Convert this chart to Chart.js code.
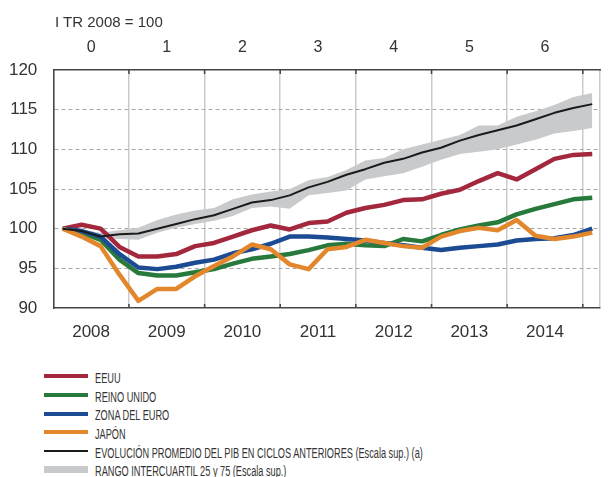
<!DOCTYPE html>
<html lang="es">
<head>
<meta charset="utf-8">
<title>PIB: ciclo actual frente a ciclos anteriores</title>
<script src="https://cdn.jsdelivr.net/npm/chart.js@4.4.1/dist/chart.umd.min.js"></script>
<style>
  html, body { margin: 0; padding: 0; background: #fff; }
  #wrap { position: relative; width: 614px; height: 477px; overflow: hidden;
          font-family: 'Liberation Sans', Arial, sans-serif; color: #333; }
  #chart-box { position: absolute; left: 0; top: 0; width: 614px; height: 350px; }
  #subtitulo { position: absolute; left: 55px; top: 13px; font-size: 15px; line-height: 17px;
               color: #333; white-space: nowrap; }
  #leyenda { position: absolute; left: 44px; top: 369px; margin: 0; padding: 0; list-style: none;
             font-family: 'Liberation Sans', Arial, sans-serif; font-size: 14px; color: #333; }
  #leyenda li { height: 18.7px; line-height: 18.7px; display: flex; align-items: center; white-space: nowrap; }
  #leyenda .muestra { width: 44px; margin-right: 7px; position: relative; top: -2px; flex: none; }
  #leyenda .texto { display: inline-block; transform-origin: 0 50%; }
</style>
</head>
<body>
<div id="wrap">
  <div id="chart-box"><canvas id="grafico" width="614" height="350"></canvas></div>
  <div id="subtitulo">I TR 2008 = 100</div>
  <ul id="leyenda"></ul>
</div>
<script>
// trimestres, eje inferior (2008 I TR a 2015 I TR)
const trimestres = [
  '2008 I', '2008 II', '2008 III', '2008 IV',
  '2009 I', '2009 II', '2009 III', '2009 IV',
  '2010 I', '2010 II', '2010 III', '2010 IV',
  '2011 I', '2011 II', '2011 III', '2011 IV',
  '2012 I', '2012 II', '2012 III', '2012 IV',
  '2013 I', '2013 II', '2013 III', '2013 IV',
  '2014 I', '2014 II', '2014 III', '2014 IV',
  '2015 I'
];
const anios = ['2008', '2009', '2010', '2011', '2012', '2013', '2014'];
const aniosCiclo = ['0', '1', '2', '3', '4', '5', '6']; // escala superior

const eeuu = [100, 100.5, 100.0, 97.7, 96.5, 96.5, 96.8, 97.8, 98.2, 99.0, 99.8, 100.4, 99.9, 100.7,
  100.9, 102.0, 102.6, 103.0, 103.6, 103.7, 104.4, 104.9, 106.0, 107.0, 106.2, 107.5, 108.8, 109.3, 109.4];
const reinoUnido = [100, 99.5, 98.6, 96.1, 94.4, 94.1, 94.1, 94.5, 94.9, 95.6, 96.2, 96.5, 96.8, 97.3,
  97.9, 98.1, 97.9, 97.8, 98.7, 98.4, 99.2, 99.9, 100.4, 100.8, 101.8, 102.5, 103.1, 103.7, 103.9];
const zonaEuro = [100, 99.7, 99.0, 96.8, 95.1, 94.9, 95.2, 95.7, 96.1, 96.9, 97.4, 98.1, 99.0, 99.0,
  98.9, 98.7, 98.5, 98.2, 97.9, 97.6, 97.3, 97.6, 97.8, 98.0, 98.5, 98.7, 98.8, 99.2, 100.0];
const japon = [100, 99.0, 97.8, 94.2, 90.9, 92.4, 92.4, 94.0, 95.3, 96.5, 98.0, 97.4, 95.5, 94.9,
  97.4, 97.7, 98.6, 98.2, 97.8, 97.6, 99.0, 99.7, 100.1, 99.8, 101.1, 99.1, 98.7, 99.0, 99.5];
const ciclosAnteriores = [100, 99.7, 99.0, 99.3, 99.4, 100.0, 100.6, 101.2, 101.7, 102.5, 103.3, 103.6, 104.2, 105.2,
  105.9, 106.8, 107.5, 108.3, 108.8, 109.6, 110.2, 111.1, 111.8, 112.4, 113.0, 113.8, 114.6, 115.2, 115.7];
const rangoP75 = [100, 99.9, 99.5, 99.8, 100.1, 101.1, 101.8, 102.3, 102.6, 103.7, 104.3, 104.7, 105.0, 106.1,
  106.5, 107.4, 108.6, 108.9, 110.0, 110.6, 111.2, 111.8, 113.0, 113.0, 114.1, 114.8, 115.6, 116.6, 117.1];
const rangoP25 = [100, 99.5, 98.8, 98.7, 98.6, 99.5, 100.1, 100.6, 101.0, 101.6, 102.6, 102.8, 102.5, 104.2,
  104.5, 104.8, 106.2, 106.6, 107.0, 107.8, 108.7, 109.4, 109.7, 110.0, 110.6, 111.2, 112.0, 112.3, 112.7];

const yTicks = [90, 95, 100, 105, 110, 115, 120];

const xMin = -0.5, xMax = 28.41;

function puntos(serie) {
  return serie.map((v, i) => ({ x: i, y: v, t: trimestres[i] }));
}
function esLimite(v) {
  const k = (v + 0.5) / 4;
  return Math.abs(k - Math.round(k)) < 1e-6;
}
// ticks: limites de año (lineas) + centros de año (etiquetas)
function ticksAnuales(etiquetas, conLimites) {
  const t = [];
  etiquetas.forEach((e, k) => {
    if (conLimites) t.push({ value: -0.5 + 4 * k });
    t.push({ value: 1.5 + 4 * k });
  });
  if (conLimites) { t.push({ value: -0.5 + 4 * etiquetas.length }); t.push({ value: xMax }); }
  return t.sort((a, b) => a.value - b.value);
}
function etiquetaCentro(etiquetas, v) {
  const k = (v - 1.5) / 4;
  if (Math.abs(k - Math.round(k)) < 1e-6 && etiquetas[Math.round(k)] !== undefined) return etiquetas[Math.round(k)];
  return '';
}

const series = [
  { label: 'EEUU', data: puntos(eeuu), borderColor: '#a4283d', borderWidth: 4.5, order: 4, tipo: 'linea' },
  { label: 'REINO UNIDO', data: puntos(reinoUnido), borderColor: '#277a3b', borderWidth: 4.5, order: 3, tipo: 'linea' },
  { label: 'ZONA DEL EURO', data: puntos(zonaEuro), borderColor: '#1b4b93', borderWidth: 4.5, order: 2, tipo: 'linea' },
  { label: 'JAPÓN', data: puntos(japon), borderColor: '#e3872c', borderWidth: 4.5, order: 1, tipo: 'linea' },
  { label: 'EVOLUCIÓN PROMEDIO DEL PIB EN CICLOS ANTERIORES (Escala sup.) (a)', data: puntos(ciclosAnteriores),
    borderColor: '#1a1a1a', borderWidth: 2, order: 0, tipo: 'negra' },
  { label: 'RANGO INTERCUARTIL 25 y 75 (Escala sup.)', data: puntos(rangoP75), borderColor: 'rgba(0,0,0,0)',
    backgroundColor: '#c9cacc', borderWidth: 0, fill: '+1', order: 6, tipo: 'banda' },
  { label: 'p25', data: puntos(rangoP25), borderColor: 'rgba(0,0,0,0)', borderWidth: 0, fill: false, order: 7, tipo: 'oculta' }
];

const marcasInternas = {
  id: 'marcasInternas',
  afterDraw(chart) {
    const { ctx, chartArea, scales } = chart;
    const x = scales.x;
    ctx.save();
    ctx.strokeStyle = '#444';
    ctx.lineWidth = 1.5;
    x.ticks.forEach(t => {
      if (!esLimite(t.value) || t.value <= xMin) return;
      const px = x.getPixelForValue(t.value);
      ctx.beginPath();
      ctx.moveTo(px, chartArea.top); ctx.lineTo(px, chartArea.top + 4);
      ctx.moveTo(px, chartArea.bottom); ctx.lineTo(px, chartArea.bottom - 4);
      ctx.stroke();
    });
    ctx.restore();
  }
};

const grafico = new Chart(document.getElementById('grafico'), {
  type: 'line',
  data: {
    datasets: series.map(s => ({
      label: s.label, data: s.data, borderColor: s.borderColor, backgroundColor: s.backgroundColor || s.borderColor,
      borderWidth: s.borderWidth, fill: s.fill || false, order: s.order, pointRadius: 0, tension: 0,
      borderJoinStyle: 'round', borderCapStyle: 'butt'
    }))
  },
  options: {
    responsive: false,
    animation: false,
    devicePixelRatio: 1,
    layout: { padding: { right: 1 } },
    plugins: { legend: { display: false }, tooltip: { enabled: false }, title: { display: false } },
    scales: {
      x: {
        type: 'linear', position: 'bottom', min: xMin, max: xMax,
        afterBuildTicks: s => { s.ticks = ticksAnuales(anios, true); },
        afterFit: s => { s.height = 42; },
        ticks: {
          autoSkip: false, maxRotation: 0, padding: 14, color: '#333',
          font: { family: "'Liberation Sans', Arial, sans-serif", size: 17 },
          callback: v => etiquetaCentro(anios, v)
        },
        grid: {
          drawTicks: false, lineWidth: 1.5,
          color: c => (c.tick && (esLimite(c.tick.value) || c.tick.value === xMax)) ? '#cbcbcb' : 'rgba(0,0,0,0)'
        },
        border: { display: true, color: '#444', width: 1.5 }
      },
      xSup: {
        type: 'linear', position: 'top', min: xMin, max: xMax,
        afterBuildTicks: s => { s.ticks = ticksAnuales(aniosCiclo, false); },
        afterFit: s => { s.height = 70; },
        ticks: {
          autoSkip: false, maxRotation: 0, padding: 13, color: '#333',
          font: { family: "'Liberation Sans', Arial, sans-serif", size: 16 },
          callback: v => etiquetaCentro(aniosCiclo, v)
        },
        grid: { display: false, drawTicks: false },
        border: { display: true, color: '#444', width: 1.5 }
      },
      y: {
        min: 90, max: 120,
        afterBuildTicks: s => { s.ticks = yTicks.map(v => ({ value: v })); },
        afterFit: s => { s.width = 53.3; },
        ticks: {
          padding: 16, color: '#333',
          font: { family: "'Liberation Sans', Arial, sans-serif", size: 17 }
        },
        grid: {
          drawTicks: false, lineWidth: 1,
          color: c => (c.tick && (c.tick.value === 90 || c.tick.value === 120)) ? 'rgba(0,0,0,0)' : '#a8a8a8'
        },
        border: { display: true, color: '#444', width: 1.5, dash: [4, 3] }
      }
    }
  },
  plugins: [marcasInternas]
});

// leyenda en HTML, una entrada por fila; texto estrechado como en el original
const leyenda = document.getElementById('leyenda');
const textos = [];
series.filter(s => s.tipo !== 'oculta').forEach(s => {
  const li = document.createElement('li');
  const m = document.createElement('span');
  m.className = 'muestra';
  const alto = s.tipo === 'banda' ? 7 : (s.tipo === 'negra' ? 2 : 4);
  m.style.height = alto + 'px';
  m.style.background = s.tipo === 'banda' ? s.backgroundColor : s.borderColor;
  const txt = document.createElement('span');
  txt.className = 'texto';
  txt.textContent = s.label;
  li.appendChild(m);
  li.appendChild(txt);
  leyenda.appendChild(li);
  textos.push(txt);
});
const anchoMax = Math.max(...textos.map(t => t.getBoundingClientRect().width));
const factor = 328 / anchoMax;
textos.forEach(t => { t.style.transform = 'scaleX(' + factor.toFixed(3) + ')'; });
</script>
</body>
</html>
